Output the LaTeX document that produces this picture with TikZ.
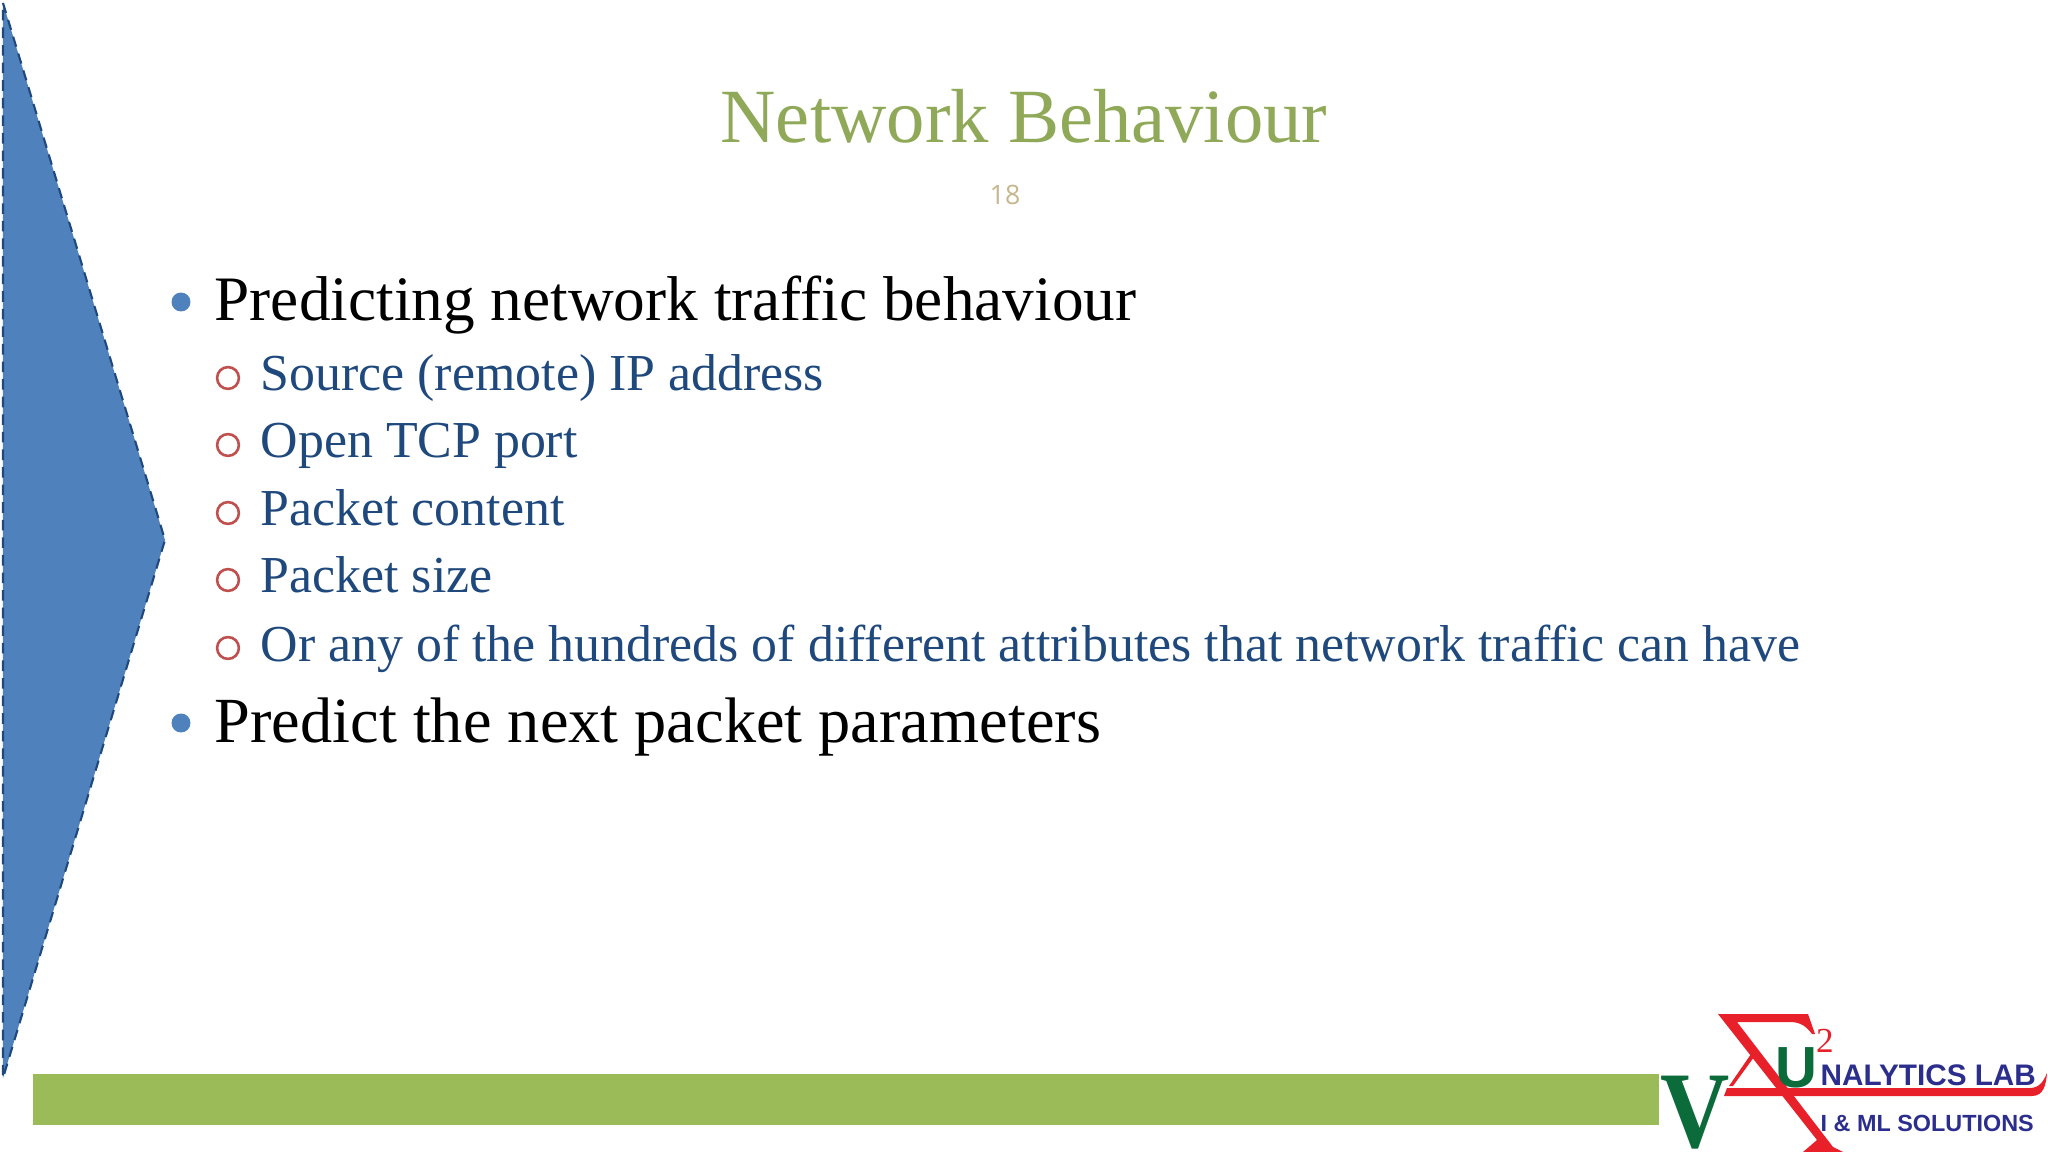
\documentclass[tikz,border=0pt]{standalone}
\usepackage{fontspec}
\setmainfont{Liberation Serif}
\setsansfont{Liberation Sans}
\newfontfamily\numfont{Open Sans}
\usetikzlibrary{positioning}

\definecolor{titlegreen}{HTML}{8FA958}
\definecolor{bargreen}{HTML}{9BBB59}
\definecolor{arrowblue}{HTML}{4F81BD}
\definecolor{arrowedge}{HTML}{1F497D}
\definecolor{subblue}{HTML}{1F497D}
\definecolor{ringred}{HTML}{C0504D}
\definecolor{numtan}{HTML}{C4B68E}
\definecolor{logored}{HTML}{E8202A}
\definecolor{logogreen}{HTML}{0B6B3A}
\definecolor{logonavy}{HTML}{2B2E8C}

\tikzset{
  mainitem/.style={anchor=base west, inner sep=0pt, font=\fontsize{18}{20}\selectfont, text=black},
  subitem/.style={anchor=base west, inner sep=0pt, font=\fontsize{14.75}{17}\selectfont, text=subblue},
  maindot/.style={circle, fill=arrowblue, inner sep=0pt, minimum size=5.4pt},
  subring/.style={circle, draw=ringred, line width=0.75pt, inner sep=0pt, minimum size=6.2pt},
  logotext/.style={anchor=base west, inner sep=0pt, text=logonavy, font=\sffamily\bfseries\fontsize{8.45}{10}\selectfont},
}

\begin{document}
\begin{tikzpicture}[x=0.01cm, y=-0.01cm]
  \useasboundingbox (0,0) rectangle (2048,1152);

  % Side arrow and footer bar
  \draw[fill=arrowblue, draw=arrowedge, densely dashed, line width=0.6pt] (3,3) -- (165,540) -- (3,1078) -- cycle;
  \fill[bargreen] (33,1074) rectangle (1659,1125);

  % Title
  \node[anchor=base, inner sep=0pt, text=titlegreen, font=\fontsize{21.8}{26}\selectfont] (title) at (1024,143) {Network Behaviour};
  \node[anchor=base, inner sep=0pt, text=numtan, font=\numfont\fontsize{7.6}{9}\selectfont] (num) at (1005,205) {18};

  % Bullet list
  \node[mainitem] (m1) at (214,321) {Predicting network traffic behaviour};
  \node[subitem] (s1) at (260,391) {Source (remote) IP address};
  \node[subitem] (s2) at (260,458) {Open TCP port};
  \node[subitem] (s3) at (260,526) {Packet content};
  \node[subitem] (s4) at (260,593) {Packet size};
  \node[subitem] (s5) at (260,661) {Or any of the hundreds of different attributes that network traffic can have};
  \node[mainitem, font=\fontsize{18.3}{20}\selectfont] (m2) at (214,742) {Predict the next packet parameters};

  \foreach \nm/\yy in {m1/302, m2/723} {
    \node[maindot] (dot\nm) at (181,\yy) {};
  }
  \foreach \nm/\yy in {s1/378, s2/445, s3/513, s4/580, s5/648} {
    \node[subring] (ring\nm) at (228,\yy) {};
  }

  % Logo
  \fill[logored] (1718,1014) -- (1808,1014) -- (1815,1034) -- (1812,1034) .. controls (1806,1026) and (1800,1022) .. (1790,1022) -- (1737,1022)
    -- (1833,1147) -- (1843,1152) -- (1803,1152) -- (1817,1140) -- cycle;
  \fill[logored] (1729,1086) -- (1751,1054) -- (1754,1057) -- (1733,1086) -- cycle;
  \fill[logored] (1727,1088) -- (2030,1088) .. controls (2040,1088) and (2044,1080) .. (2047,1073) .. controls (2046,1084) and (2044,1096) .. (2032,1096) -- (1724,1096) -- cycle;
  \node[anchor=base, inner sep=0pt, text=logogreen, font=\bfseries\fontsize{31}{33}\selectfont] (vee) at (1695,1147) {\scalebox{0.88}[1]{V}};
  \node[anchor=base, inner sep=0pt, text=logogreen, font=\sffamily\bfseries\fontsize{16.5}{20}\selectfont] (you) at (1796,1087) {U};
  \node[anchor=base, inner sep=0pt, text=logored, font=\fontsize{10}{12}\selectfont] (two) at (1825,1052) {2};
  \node[logotext] (lab) at (1820,1085) {NALYTICS LAB};
  \node[logotext, font=\sffamily\bfseries\fontsize{6.65}{9}\selectfont] (sol) at (1820,1131) {I \& ML SOLUTIONS};
\end{tikzpicture}
\end{document}
